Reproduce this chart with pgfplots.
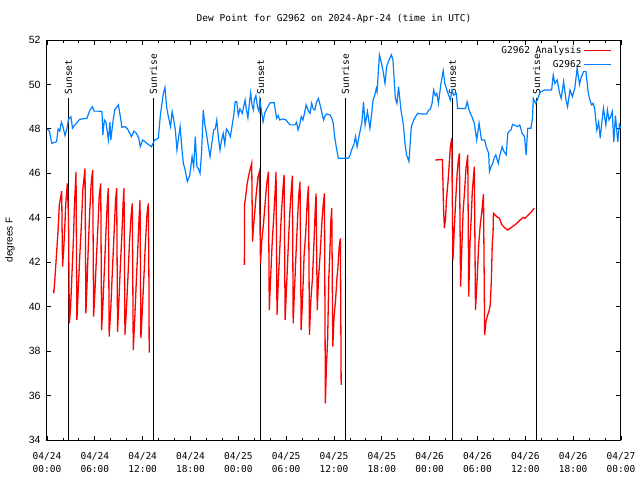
\documentclass[border=0pt]{standalone}
\usepackage{fontspec}
\setmainfont{DejaVu Sans Mono}
\newfontfamily\sansf{Liberation Sans}
\usepackage{pgfplots}
\pgfplotsset{compat=1.18}
\definecolor{obsblue}{RGB}{0,128,255}
\newcommand{\gfont}{\fontsize{9.5}{12.5}\selectfont}
\begin{document}
\begin{tikzpicture}
\begin{axis}[
  at={(0,0)}, anchor=south west,
  scale only axis, width=574pt, height=400pt,
  xmin=0, xmax=72, ymin=34, ymax=52,
  xtick={0,6,...,72}, minor xtick={0,2,...,72},
  xticklabels={{04/24\\00:00},{04/24\\06:00},{04/24\\12:00},{04/24\\18:00},{04/25\\00:00},{04/25\\06:00},{04/25\\12:00},{04/25\\18:00},{04/26\\00:00},{04/26\\06:00},{04/26\\12:00},{04/26\\18:00},{04/27\\00:00}},
  xticklabel style={align=center, font=\gfont, yshift=-9pt},
  ytick={34,36,...,52},
  yticklabel style={font=\sansf\fontsize{10.5}{12}\selectfont, xshift=-3pt},
  /pgf/number format/assume math mode=true,
  major tick length=4.5pt, minor tick length=2.5pt,
  axis line style={line width=1pt},
  every tick/.style={black, line width=0.8pt},
  title={Dew Point for G2962 on 2024-Apr-24 (time in UTC)},
  title style={font=\gfont, at={(axis description cs:0.5,1)}, anchor=center, yshift=15pt},
  ylabel={degrees F},
  ylabel style={font=\sansf\fontsize{10}{12}\selectfont, at={(axis description cs:0,0.5)}, anchor=center, yshift=37pt},
  legend cell align=right,
  legend plot pos=right,
  legend image code/.code={\draw[#1] (0pt,0pt) -- (27pt,0pt);},
  legend style={draw=none, fill=none, at={(axis description cs:1,1)}, anchor=north east, font=\gfont, xshift=-6pt, yshift=-2pt, row sep=1pt},
]
% sun lines
\addplot[forget plot, black, line width=1.3pt] coordinates {(2.68,34) (2.68,49.4)} node[pos=1, rotate=90, anchor=west, font=\gfont, inner sep=3pt] {Sunset};
\addplot[forget plot, black, line width=1.3pt] coordinates {(13.34,34) (13.34,49.4)} node[pos=1, rotate=90, anchor=west, font=\gfont, inner sep=3pt] {Sunrise};
\addplot[forget plot, black, line width=1.3pt] coordinates {(26.8,34) (26.8,49.4)} node[pos=1, rotate=90, anchor=west, font=\gfont, inner sep=3pt] {Sunset};
\addplot[forget plot, black, line width=1.3pt] coordinates {(37.43,34) (37.43,49.4)} node[pos=1, rotate=90, anchor=west, font=\gfont, inner sep=3pt] {Sunrise};
\addplot[forget plot, black, line width=1.3pt] coordinates {(50.86,34) (50.86,49.4)} node[pos=1, rotate=90, anchor=west, font=\gfont, inner sep=3pt] {Sunset};
\addplot[forget plot, black, line width=1.3pt] coordinates {(61.4,34) (61.4,49.4)} node[pos=1, rotate=90, anchor=west, font=\gfont, inner sep=3pt] {Sunrise};

% analysis (red)
\addplot[red, line width=1.3pt] coordinates {
(0.8,40.75) (0.85,40.6) (1.0,41.3) (1.2,42.4) (1.4,43.5) (1.55,44.6) (1.75,45.0) (1.84,45.2)
(1.95,41.8) (2.05,42.3) (2.2,43.3) (2.35,44.6) (2.55,45.55)
(2.7,43.9) (2.8,39.25) (2.95,39.9) (3.1,41.2) (3.3,42.9) (3.45,44.6) (3.64,46.07)
(3.75,39.4) (3.9,40.6) (4.1,42.2) (4.3,43.6) (4.5,45.3) (4.77,46.22)
(4.88,39.7) (5.0,40.8) (5.15,42.4) (5.35,44.2) (5.55,45.6) (5.73,46.15)
(5.85,39.55) (6.0,40.6) (6.2,42.2) (6.4,43.7) (6.55,45.0) (6.74,45.55)
(6.85,38.95) (7.0,40.0) (7.2,41.7) (7.4,43.4) (7.55,44.6) (7.69,45.33)
(7.8,38.65) (8.0,39.9) (8.2,41.6) (8.4,43.2) (8.6,44.8) (8.74,45.33)
(8.85,38.87) (9.0,40.1) (9.2,41.8) (9.4,43.3) (9.55,44.7) (9.66,45.33)
(9.78,38.73) (9.95,39.8) (10.15,41.3) (10.35,42.9) (10.55,44.1) (10.7,44.65)
(10.82,38.05) (11.0,39.4) (11.2,41.1) (11.4,42.7) (11.55,44.0) (11.67,44.8)
(11.78,38.58) (11.95,39.8) (12.15,41.3) (12.35,42.9) (12.55,44.2) (12.71,44.65)
(12.78,41.5) (12.82,37.93)
};
\addlegendentry{G2962 Analysis}
\addplot[forget plot, red, line width=1.3pt] coordinates {
(24.76,41.88) (24.77,44.58) (24.9,44.9) (25.1,45.5) (25.3,45.9) (25.5,46.2) (25.68,46.45)
(25.78,42.93) (25.9,43.6) (26.05,44.2) (26.25,45.1) (26.45,45.8) (26.64,46.07)
(26.78,41.95) (26.95,43.0) (27.15,43.7) (27.35,44.6) (27.55,45.5) (27.77,46.07)
(27.88,39.85) (28.05,41.3) (28.25,42.9) (28.45,44.1) (28.6,45.1) (28.73,46.07)
(28.85,39.63) (29.0,41.0) (29.2,42.6) (29.4,44.2) (29.6,45.3) (29.74,45.93)
(29.87,39.4) (30.05,40.9) (30.25,42.6) (30.45,44.2) (30.65,45.3) (30.78,45.9)
(30.88,39.25) (31.05,40.8) (31.25,42.5) (31.45,44.1) (31.6,45.1) (31.74,45.63)
(31.88,38.95) (32.05,40.3) (32.25,42.3) (32.45,43.3) (32.65,44.8) (32.8,45.43)
(32.92,38.73) (33.1,40.3) (33.3,41.3) (33.5,43.0) (33.65,44.4) (33.75,45.1)
(33.9,39.85) (34.05,41.2) (34.25,42.3) (34.5,43.9) (34.65,44.6) (34.8,45.1)
(34.92,35.65) (35.05,37.3) (35.2,38.5) (35.35,41.28) (35.5,42.6) (35.6,43.83) (35.72,44.43)
(35.85,38.2) (36.0,39.5) (36.2,40.3) (36.35,41.2) (36.5,41.8) (36.65,42.7) (36.8,43.07)
(36.9,36.48)
};
\addplot[forget plot, red, line width=1.3pt] coordinates {
(48.7,46.6) (49.6,46.62) (49.65,45.85) (49.75,44.35) (49.85,43.53) (50.0,44.0) (50.1,44.8) (50.3,45.6) (50.45,46.4) (50.6,47.2) (50.78,47.58)
(50.82,45.6) (50.92,42.1) (51.05,43.2) (51.25,44.7) (51.45,46.0) (51.6,46.6) (51.73,46.9)
(51.88,40.9) (52.0,42.3) (52.2,44.3) (52.4,45.3) (52.55,46.2) (52.78,46.83)
(52.9,40.45) (53.05,42.8) (53.2,43.9) (53.35,45.2) (53.6,46.3)
(53.75,39.85) (53.95,41.2) (54.15,42.8) (54.35,43.7) (54.55,44.3) (54.75,45.07)
(54.9,38.73) (55.05,39.3) (55.25,39.6) (55.45,39.8) (55.6,40.1) (55.75,41.3) (55.85,42.8) (55.95,43.3) (56.0,44.2)
(56.42,44.05) (56.75,43.98) (57.05,43.68) (57.47,43.53) (57.76,43.45) (58.1,43.53) (58.5,43.63) (58.93,43.75) (59.35,43.9) (59.76,44.02) (59.97,43.98) (60.39,44.13) (60.8,44.28) (61.1,44.43)
};
% observed (blue)
\addplot[obsblue, line width=1.2pt] coordinates {
(0.0,48.0) (0.3,47.9) (0.6,47.35) (1.0,47.4) (1.2,47.42) (1.4,48.0) (1.6,47.9) (1.8,48.3) (2.0,48.1) (2.26,47.7)
(2.5,48.0) (2.7,48.43) (3.0,48.55) (3.2,48.03) (3.5,48.18) (3.8,48.3) (4.1,48.43) (4.5,48.45) (5.0,48.48) (5.4,48.85)
(5.7,49.0) (5.9,48.8) (6.4,48.8) (6.9,48.78) (7.0,47.73) (7.2,48.4) (7.4,48.3) (7.7,47.5) (7.9,48.3) (8.0,47.5)
(8.3,48.4) (8.5,48.85) (8.95,49.08) (9.1,48.78) (9.4,48.07) (9.8,48.1) (10.1,48.0) (10.3,47.85) (10.6,47.65) (10.9,47.9)
(11.2,47.8) (11.5,47.6) (11.7,47.2) (12.0,47.5) (12.3,47.42) (12.7,47.3) (13.1,47.2) (13.5,47.5) (13.97,47.58) (14.2,48.55)
(14.4,49.1) (14.6,49.6) (14.8,49.86) (15.0,49.0) (15.2,48.6) (15.5,48.1) (15.7,48.78) (15.9,48.4) (16.1,47.95) (16.3,47.05)
(16.5,47.6) (16.7,48.1) (16.9,47.2) (17.1,46.45) (17.3,46.2) (17.6,45.63) (17.9,45.9) (18.2,46.75) (18.4,46.3) (18.6,47.65)
(18.8,46.3) (19.0,46.2) (19.2,46.0) (19.4,47.0) (19.6,48.85) (19.8,48.2) (20.0,47.8) (20.2,47.3) (20.45,46.75) (20.7,47.4)
(20.9,47.95) (21.1,48.0) (21.3,48.4) (21.5,47.6) (21.7,47.05) (21.9,47.5) (22.1,47.8) (22.3,47.3) (22.5,48.0) (22.7,47.9)
(23.0,47.65) (23.2,48.1) (23.4,48.55) (23.6,49.22) (23.8,49.22) (24.0,48.6) (24.2,48.9) (24.5,48.7) (24.85,49.3) (25.0,48.9)
(25.2,48.5) (25.4,49.2) (25.55,49.63) (25.7,49.1) (25.9,48.85) (26.0,49.3) (26.2,49.5) (26.4,49.0) (26.6,48.78) (26.7,49.3)
(26.9,48.8) (27.1,48.32) (27.3,48.7) (27.6,48.93) (28.0,49.18) (28.5,49.18) (28.8,48.48) (29.0,48.6) (29.2,48.4) (29.6,48.45)
(30.0,48.4) (30.2,48.3) (30.5,48.18) (31.1,48.18) (31.3,48.3) (31.5,47.95) (31.7,48.2) (31.9,48.55) (32.1,48.4) (32.3,48.7)
(32.5,49.08) (32.8,48.8) (33.0,48.7) (33.2,49.15) (33.4,48.9) (33.6,48.85) (33.8,49.2) (34.05,49.37) (34.25,49.08) (34.5,48.7)
(34.7,48.4) (34.9,48.6) (35.1,48.67) (35.5,48.63) (35.7,48.5) (35.9,48.25) (36.1,47.6) (36.35,47.05) (36.55,46.68) (37.0,46.68)
(37.8,46.68) (38.0,46.8) (38.2,47.05) (38.5,47.3) (38.7,47.65) (38.9,47.2) (39.1,47.6) (39.3,47.95) (39.5,48.3) (39.7,49.22)
(39.9,48.18) (40.2,48.78) (40.5,48.03) (40.7,48.6) (40.9,49.3) (41.1,49.5) (41.3,49.82) (41.4,49.67) (41.55,50.5) (41.7,51.33)
(42.0,50.88) (42.2,50.5) (42.4,50.05) (42.6,50.8) (42.9,51.1) (43.2,51.33) (43.4,51.1) (43.55,50.2) (43.7,49.37) (43.9,49.15)
(44.1,49.9) (44.4,48.85) (44.7,48.18) (44.9,47.35) (45.1,46.83) (45.4,46.53) (45.7,48.1) (46.1,48.48) (46.5,48.7) (47.1,48.67)
(47.6,48.67) (47.9,48.85) (48.1,48.9) (48.3,49.15) (48.5,49.75) (48.7,49.5) (48.9,49.6) (49.1,49.15) (49.4,50.0) (49.7,50.62)
(49.9,50.05) (50.2,49.7) (50.4,49.5) (50.6,49.3) (50.8,49.75) (51.0,49.52) (51.35,49.6) (51.5,48.92) (52.0,48.92) (52.5,48.92)
(52.7,49.22) (53.0,48.78) (53.3,48.55) (53.6,48.25) (53.9,47.5) (54.2,48.25) (54.5,47.5) (54.9,47.5) (55.1,47.2) (55.4,46.9)
(55.5,46.08) (55.7,46.3) (55.9,46.45) (56.1,46.7) (56.3,46.83) (56.6,46.45) (56.8,46.8) (57.1,47.2) (57.3,47.0) (57.6,46.83)
(57.8,47.8) (58.0,47.9) (58.2,47.95) (58.4,48.2) (58.6,48.18) (59.0,48.1) (59.3,48.18) (59.6,47.8) (59.9,47.65) (60.1,46.83)
(60.3,48.03) (60.7,48.03) (60.9,48.48) (61.0,49.37) (61.3,49.15) (61.5,49.3) (61.7,49.5) (61.9,49.67) (62.4,49.75) (62.8,49.75)
(63.3,49.75) (63.5,50.43) (63.7,50.05) (64.0,50.2) (64.3,49.6) (64.5,49.37) (64.8,50.13) (65.1,49.3) (65.3,49.0) (65.6,49.75)
(65.9,49.45) (66.2,49.82) (66.5,50.73) (66.8,50.0) (67.0,50.3) (67.3,50.58) (67.6,50.58) (67.9,49.6) (68.1,49.3) (68.3,49.08)
(68.5,49.15) (68.7,48.9) (68.97,47.95) (69.2,48.3) (69.4,47.58) (69.6,48.3) (69.8,48.93) (70.1,48.18) (70.3,48.85) (70.5,48.4)
(70.7,48.55) (70.9,48.78) (71.1,47.42) (71.3,48.6) (71.6,47.42) (71.8,48.2) (72.0,48.03)
};
\addlegendentry{G2962}
\end{axis}
\pgfresetboundingbox
\path[use as bounding box] (-47pt,-40pt) rectangle (593pt,440pt);
\end{tikzpicture}
\end{document}
